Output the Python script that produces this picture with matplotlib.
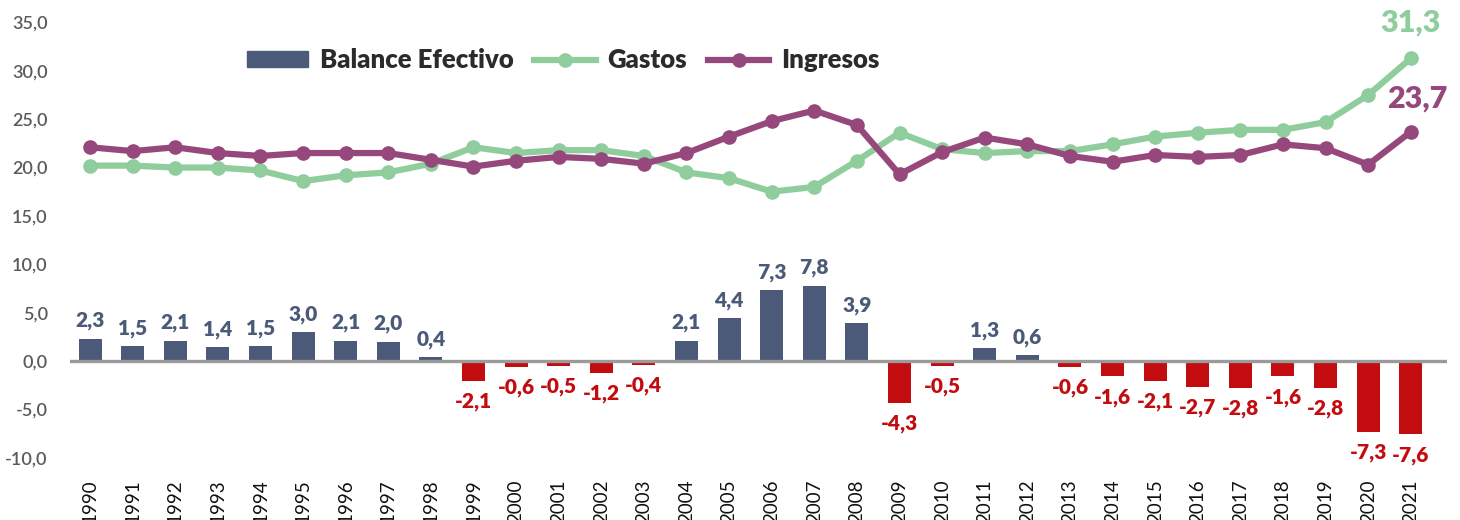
import matplotlib
matplotlib.use("Agg")
import matplotlib.pyplot as plt
from matplotlib.lines import Line2D
from matplotlib.patches import Patch

years = list(range(1990, 2022))
balance = [2.3, 1.5, 2.1, 1.4, 1.5, 3.0, 2.1, 2.0, 0.4, -2.1, -0.6, -0.5, -1.2, -0.4,
           2.1, 4.4, 7.3, 7.8, 3.9, -4.3, -0.5, 1.3, 0.6, -0.6, -1.6, -2.1, -2.7, -2.8,
           -1.6, -2.8, -7.3, -7.6]
gastos = [20.2, 20.2, 20.0, 20.0, 19.7, 18.6, 19.2, 19.5, 20.4, 22.1, 21.5, 21.8, 21.8,
          21.2, 19.5, 18.9, 17.5, 18.0, 20.7, 23.6, 21.9, 21.5, 21.7, 21.7, 22.4, 23.2,
          23.6, 23.9, 23.9, 24.7, 27.5, 31.3]
ingresos = [22.1, 21.7, 22.1, 21.5, 21.2, 21.5, 21.5, 21.5, 20.8, 20.1, 20.7, 21.1, 20.9,
            20.4, 21.5, 23.2, 24.8, 25.9, 24.4, 19.3, 21.6, 23.1, 22.4, 21.2, 20.6, 21.3,
            21.1, 21.3, 22.4, 22.0, 20.3, 23.7]
yticks = [-10, -5, 0, 5, 10, 15, 20, 25, 30, 35]

C_POS = "#4b5a78"
C_NEG = "#c20c0f"
C_G = "#8fcd9d"
C_I = "#96487c"
FONT = "Lato"

def fmt(v):
    return f"{v:.1f}".replace(".", ",")

fig = plt.figure(figsize=(14.6, 5.2), dpi=100)
ax = fig.add_axes([70/1460, 0.1106, (1447-70)/1460, 0.874])
x = list(range(len(years)))

colors = [C_POS if v >= 0 else C_NEG for v in balance]
ax.bar(x, balance, width=0.54, color=colors, zorder=2)
ax.axhline(0, color="#9a9a9a", lw=2.4, zorder=3)

ax.plot(x, gastos, color=C_G, lw=4.5, marker="o", ms=9.5, zorder=4)
ax.plot(x, ingresos, color=C_I, lw=4.5, marker="o", ms=9.5, zorder=5)

for xi, v in zip(x, balance):
    if v >= 0:
        ax.annotate(fmt(v), (xi, v), xytext=(0, 6), textcoords="offset points",
                    ha="center", va="bottom", color=C_POS, fontsize=15,
                    fontweight="heavy", family=FONT, zorder=6)
    else:
        ax.annotate(fmt(v), (xi, v), xytext=(0, -8), textcoords="offset points",
                    ha="center", va="top", color=C_NEG, fontsize=15,
                    fontweight="heavy", family=FONT, zorder=6)

ax.annotate(fmt(gastos[-1]), (x[-1], gastos[-1]), xytext=(0, 26), textcoords="offset points",
            ha="center", va="center", color=C_G, fontsize=22, fontweight="heavy", family=FONT)
ax.annotate(fmt(ingresos[-1]), (x[-1], ingresos[-1]), xytext=(5, 24), textcoords="offset points",
            ha="center", va="center", color=C_I, fontsize=22, fontweight="heavy", family=FONT)

ax.set_xlim(-0.47, 31.85)
ax.set_ylim(-10.5, 36.5)
ax.set_yticks(yticks)
ax.set_yticklabels([fmt(t) for t in yticks], family=FONT, fontsize=13, color="#5a5a5a",
                   fontweight="semibold")
ax.set_xticks(x)
ax.set_xticklabels([str(y) for y in years], rotation=90, family=FONT, fontsize=13.5, color="#111111")
ax.tick_params(axis="both", length=0)
ax.tick_params(axis="y", pad=16)
ax.tick_params(axis="x", pad=12)
for s in ax.spines.values():
    s.set_visible(False)

handles = [Patch(color=C_POS),
           Line2D([0], [0], color=C_G, lw=4.5, marker="o", ms=9.5),
           Line2D([0], [0], color=C_I, lw=4.5, marker="o", ms=9.5)]
leg = ax.legend(handles, ["Balance Efectivo", "Gastos", "Ingresos"], ncol=3,
                loc="center", bbox_to_anchor=(563/1460, 460/520),
                bbox_transform=fig.transFigure, frameon=False,
                prop={"family": FONT, "weight": "heavy", "size": 18.5},
                handlelength=2.4, handleheight=0.55, columnspacing=0.8, handletextpad=0.45)
for t in leg.get_texts():
    t.set_color("#2b2b2b")

fig.savefig("out.png", dpi=100)
